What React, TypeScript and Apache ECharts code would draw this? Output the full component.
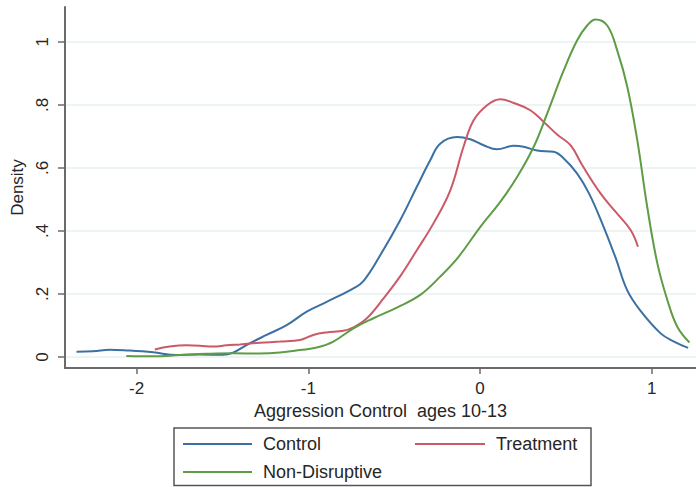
import React, { useEffect, useRef } from "react";
import * as echarts from "echarts";

const controlX = [-2.35, -2.254, -2.157, -2.06, -1.904, -1.768, -1.632, -1.496, -1.438, -1.36, -1.243, -1.126, -1.009, -0.893, -0.737, -0.679, -0.582, -0.465, -0.368, -0.29, -0.232, -0.134, -0.057, 0.021, 0.099, 0.196, 0.254, 0.333, 0.429, 0.488, 0.566, 0.634, 0.711, 0.789, 0.857, 0.934, 1.052, 1.13, 1.212];
const controlY = [0.017, 0.018, 0.023, 0.021, 0.015, 0.006, 0.008, 0.007, 0.014, 0.038, 0.07, 0.101, 0.144, 0.175, 0.218, 0.241, 0.322, 0.434, 0.54, 0.624, 0.677, 0.698, 0.691, 0.672, 0.659, 0.67, 0.667, 0.655, 0.651, 0.63, 0.582, 0.52, 0.425, 0.316, 0.212, 0.147, 0.075, 0.049, 0.029];

const treatmentX = [-1.894, -1.807, -1.71, -1.632, -1.554, -1.476, -1.399, -1.282, -1.165, -1.048, -0.971, -0.893, -0.796, -0.737, -0.659, -0.562, -0.46, -0.368, -0.271, -0.173, -0.096, -0.037, 0.041, 0.118, 0.196, 0.293, 0.371, 0.449, 0.527, 0.595, 0.702, 0.789, 0.877, 0.92];
const treatmentY = [0.024, 0.033, 0.037, 0.036, 0.033, 0.037, 0.04, 0.045, 0.049, 0.054, 0.07, 0.078, 0.083, 0.094, 0.123, 0.186, 0.26, 0.339, 0.424, 0.529, 0.667, 0.751, 0.799, 0.818, 0.806, 0.783, 0.746, 0.706, 0.672, 0.609, 0.519, 0.461, 0.403, 0.35];

const nonDisruptiveX = [-2.06, -1.904, -1.749, -1.593, -1.438, -1.282, -1.165, -1.048, -0.951, -0.854, -0.737, -0.621, -0.484, -0.348, -0.232, -0.125, 0.002, 0.118, 0.216, 0.313, 0.391, 0.488, 0.566, 0.624, 0.673, 0.741, 0.799, 0.858, 0.916, 0.974, 1.033, 1.091, 1.149, 1.22];
const nonDisruptiveY = [0.003, 0.002, 0.006, 0.01, 0.012, 0.011, 0.014, 0.022, 0.03, 0.049, 0.091, 0.123, 0.157, 0.197, 0.255, 0.318, 0.413, 0.492, 0.571, 0.667, 0.772, 0.91, 1.005, 1.052, 1.071, 1.052, 0.973, 0.857, 0.688, 0.476, 0.297, 0.181, 0.096, 0.046];

const xTicks = [-2, -1, 0, 1];
const yTicks = [0, 0.2, 0.4, 0.6, 0.8, 1];
const yTickLabels = ["0", ".2", ".4", ".6", ".8", "1"];

const seriesNames = ["Control", "Treatment", "Non-Disruptive"];
const seriesColors = ["#3a70a3", "#cc5967", "#5e9c45"];

const FONT = "Liberation Sans";
const TEXT = "#262626";
const AXIS = "#6a6a6a";

function pairs(xs: number[], ys: number[]) {
  return xs.map((x, i) => [x, ys[i]]);
}

export default function App() {
  const ref = useRef<HTMLDivElement>(null);
  useEffect(() => {
    if (!ref.current) return;
    const chart = echarts.init(ref.current, null, { renderer: "svg" });
    const datasets = [
      pairs(controlX, controlY),
      pairs(treatmentX, treatmentY),
      pairs(nonDisruptiveX, nonDisruptiveY),
    ];
    chart.setOption({
      animation: false,
      backgroundColor: "#ffffff",
      textStyle: { fontFamily: FONT },
      grid: { left: 65, top: 7, right: 0, bottom: 119, containLabel: false },
      xAxis: {
        type: "value",
        min: -2.417,
        max: 1.258,
        name: "Aggression Control  ages 10-13",
        nameLocation: "middle",
        nameGap: 31,
        nameTextStyle: { fontSize: 18, color: TEXT, fontFamily: FONT },
        axisLine: { onZero: false, lineStyle: { color: AXIS, width: 2 } },
        axisTick: { show: true, length: 6, customValues: xTicks, lineStyle: { color: AXIS, width: 1.5 } },
        axisLabel: {
          customValues: xTicks,
          fontSize: 17,
          color: TEXT,
          margin: 12,
          fontFamily: FONT,
          formatter: (v: number) => String(v),
        },
        splitLine: { show: false },
      },
      yAxis: {
        type: "value",
        min: -0.0349,
        max: 1.1106,
        name: "Density",
        nameLocation: "middle",
        nameGap: 33,
        nameRotate: 90,
        nameTextStyle: { fontSize: 17, color: TEXT, fontFamily: FONT },
        axisLine: { onZero: false, lineStyle: { color: AXIS, width: 2 } },
        axisTick: { show: true, length: 7, customValues: yTicks, lineStyle: { color: AXIS, width: 1.5 } },
        axisLabel: {
          customValues: yTicks,
          rotate: 90,
          fontSize: 17,
          color: TEXT,
          margin: 14,
          fontFamily: FONT,
          formatter: (v: number) => {
            const i = yTicks.findIndex((t) => Math.abs(t - v) < 1e-6);
            return i >= 0 ? yTickLabels[i] : "";
          },
        },
        splitLine: { show: true, lineStyle: { color: "#e7f0f1", width: 1.5 } },
      },
      legend: [
        {
          data: [seriesNames[0], seriesNames[2]],
          orient: "vertical",
          left: 183,
          top: 435,
          itemWidth: 69,
          itemHeight: 2,
          itemGap: 10,
          icon: "rect",
          padding: 0,
          textStyle: { fontSize: 18, color: TEXT, fontFamily: FONT, padding: [0, 0, 0, 6] },
        },
        {
          data: [seriesNames[1]],
          orient: "vertical",
          left: 415,
          top: 435,
          itemWidth: 70,
          itemHeight: 2,
          icon: "rect",
          padding: 0,
          textStyle: { fontSize: 18, color: TEXT, fontFamily: FONT, padding: [0, 0, 0, 6] },
        },
      ],
      graphic: [
        {
          type: "rect",
          shape: { x: 174, y: 428, width: 417, height: 57.5 },
          style: { fill: "none", stroke: "#555555", lineWidth: 1.5 },
          silent: true,
        },
      ],
      series: datasets.map((d, i) => ({
        name: seriesNames[i],
        type: "line",
        data: d,
        smooth: 0.4,
        showSymbol: false,
        symbol: "none",
        color: seriesColors[i],
        lineStyle: { color: seriesColors[i], width: 2 },
        itemStyle: { color: seriesColors[i] },
      })),
    });
    return () => chart.dispose();
  }, []);
  return (
    <div
      ref={ref}
      style={{ position: "fixed", left: 0, top: 0, width: 696, height: 487, background: "#fff" }}
    />
  );
}
